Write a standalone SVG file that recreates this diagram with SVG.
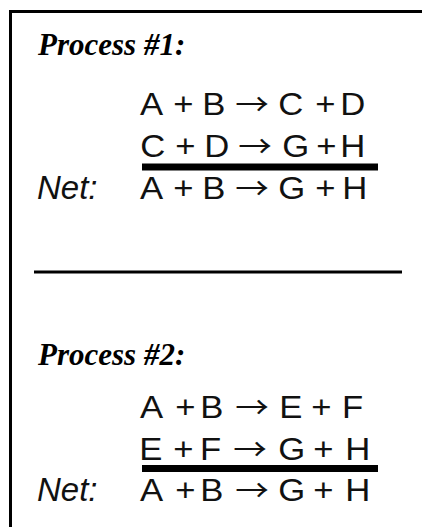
<svg xmlns="http://www.w3.org/2000/svg" width="422" height="527" viewBox="0 0 422 527">
  <style>
    .title { font-family: "Liberation Serif", "Times New Roman", serif; font-size: 31px; font-weight: bold; font-style: italic; fill: #000; }
    .eq { font-family: "Liberation Sans", Arial, sans-serif; font-size: 31px; fill: #111; }
    .arr { font-family: "Noto Sans CJK SC", "DejaVu Sans", sans-serif; font-size: 30px; }
    .net { font-family: "Liberation Sans", Arial, sans-serif; font-size: 33px; font-style: italic; fill: #111; }
    .frame { fill: none; stroke: #000; stroke-width: 3; }
    .bar { stroke: #000; stroke-width: 7; }
    .rule { stroke: #000; stroke-width: 3; }
  </style>
  <rect width="422" height="527" fill="#fff"/>

  <!-- open frame: top and left edges only -->
  <path class="frame" d="M10.5,527 V11.5 H422"/>

  <!-- Process 1 -->
  <g id="process1">
    <text class="title" x="38" y="55">Process #1:</text>
    <!-- equations are set slightly wide -->
    <g transform="translate(140,0) scale(1.12,1)">
      <text class="eq" y="115"><tspan x="0">A</tspan><tspan x="29.7">+</tspan><tspan x="55.6">B</tspan><tspan class="arr" x="85.1">→</tspan><tspan x="123.4">C</tspan><tspan x="156.5">+</tspan><tspan x="178.7">D</tspan></text>
      <text class="eq" y="157"><tspan x="0.2">C</tspan><tspan x="31.5">+</tspan><tspan x="57.3">D</tspan><tspan class="arr" x="87.8">→</tspan><tspan x="127.1">G</tspan><tspan x="157.4">+</tspan><tspan x="178.7">H</tspan></text>
      <text class="eq" y="199"><tspan x="0">A</tspan><tspan x="29.7">+</tspan><tspan x="55.6">B</tspan><tspan class="arr" x="85.1">→</tspan><tspan x="123.5">G</tspan><tspan x="156.5">+</tspan><tspan x="180.5">H</tspan></text>
    </g>
    <line class="bar" x1="142" y1="167" x2="378" y2="167"/>
    <text class="net" x="37" y="199">Net:</text>
  </g>

  <!-- separator between the two processes -->
  <line class="rule" x1="34" y1="272" x2="402" y2="272"/>

  <!-- Process 2 -->
  <g id="process2">
    <text class="title" x="38" y="365">Process #2:</text>
    <g transform="translate(140,0) scale(1.12,1)">
      <text class="eq" y="418"><tspan x="0">A</tspan><tspan x="31.5">+</tspan><tspan x="53.9">B</tspan><tspan class="arr" x="85.1">→</tspan><tspan x="124.3">E</tspan><tspan x="153">+</tspan><tspan x="180.4">F</tspan></text>
      <text class="eq" y="460"><tspan x="-0.7">E</tspan><tspan x="29.7">+</tspan><tspan x="53.6">F</tspan><tspan class="arr" x="83.3">→</tspan><tspan x="123.5">G</tspan><tspan x="154.7">+</tspan><tspan x="183.2">H</tspan></text>
      <text class="eq" y="501"><tspan x="0">A</tspan><tspan x="31.5">+</tspan><tspan x="53.9">B</tspan><tspan class="arr" x="85.1">→</tspan><tspan x="123.5">G</tspan><tspan x="154.7">+</tspan><tspan x="183.2">H</tspan></text>
    </g>
    <line class="bar" x1="142" y1="468.5" x2="378" y2="468.5"/>
    <text class="net" x="37" y="501">Net:</text>
  </g>
</svg>
